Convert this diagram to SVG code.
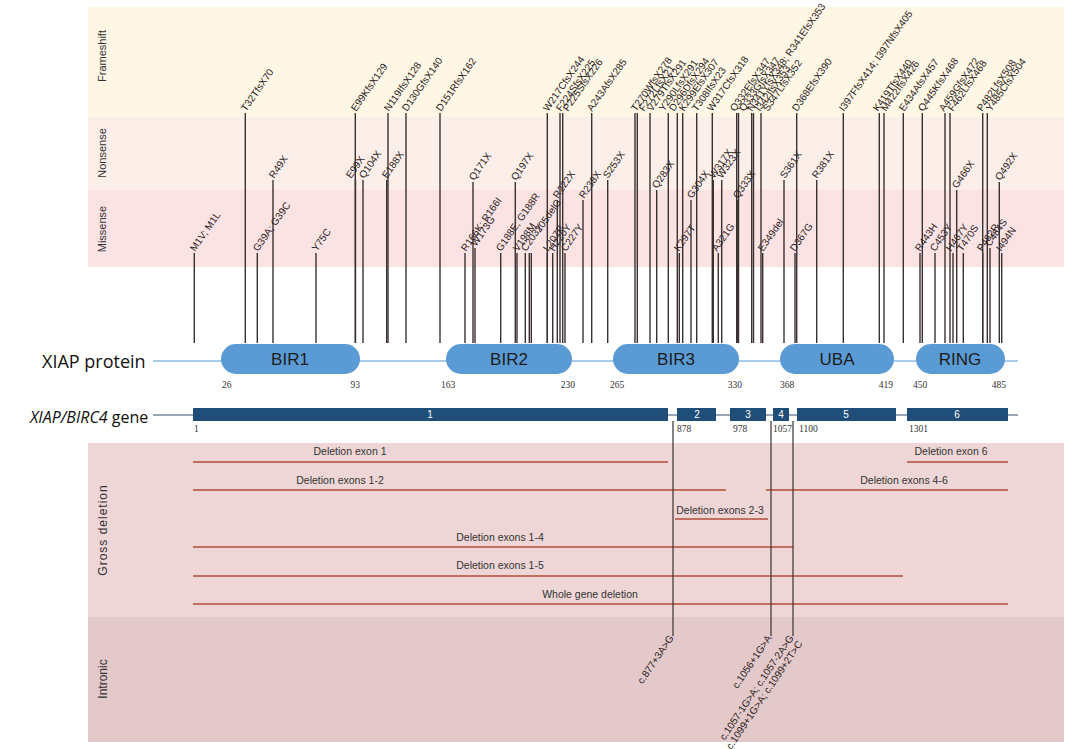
<svg xmlns="http://www.w3.org/2000/svg" width="1084" height="749" viewBox="0 0 1084 749">
<style>
.band-lbl{font-family:"Liberation Sans Narrow","Liberation Sans",sans-serif;font-size:11px;fill:#333}
.ml line{stroke:#3a3131;stroke-width:1.4}
.ml text{font-family:"Liberation Sans Narrow","Liberation Sans",sans-serif;font-size:10px;fill:#2a2222}
.dom rect{fill:#5b9bd5}
.dom text{font-family:"Liberation Sans",sans-serif;font-size:17px;fill:#1c1c1c;text-anchor:middle}
.num{font-family:"Liberation Serif",serif;font-size:9.5px;fill:#333}
.exon rect{fill:#1f4e79}
.exon text{font-family:"Liberation Sans",sans-serif;font-size:10px;fill:#fff;text-anchor:middle}
.del line{stroke:#c0705e;stroke-width:2}
.del text{font-family:"Liberation Sans Narrow","Liberation Sans",sans-serif;font-size:10.5px;fill:#333;text-anchor:middle}
.intr line{stroke:#3a3131;stroke-width:1.2}
.intr text{font-family:"Liberation Sans Narrow","Liberation Sans",sans-serif;font-size:10px;fill:#2a2222;text-anchor:end}
</style>
<rect width="1084" height="749" fill="#fff"/>
<g id="bands">
<rect x="88" y="7" width="976" height="110" fill="#fef7e5"/>
<rect x="88" y="117" width="976" height="73" fill="#fcefe9"/>
<rect x="88" y="190" width="976" height="77" fill="#fbe3e4"/>
<rect x="88" y="443" width="976" height="174" fill="#efd6d6"/>
<rect x="88" y="617" width="976" height="125" fill="#e3c9c9"/>
<text class="band-lbl" transform="translate(106,56) rotate(-90)" text-anchor="middle">Frameshift</text>
<text class="band-lbl" transform="translate(106,153) rotate(-90)" text-anchor="middle">Nonsense</text>
<text class="band-lbl" transform="translate(106,229) rotate(-90)" text-anchor="middle">Missense</text>
<text class="band-lbl" transform="translate(107,530) rotate(-90)" text-anchor="middle" style="font-size:12px;letter-spacing:1px">Gross deletion</text>
<text class="band-lbl" transform="translate(107,679) rotate(-90)" text-anchor="middle" style="font-size:12px">Intronic</text>
</g>
<g id="frameshift" class="ml">
<line x1="245.3" y1="113" x2="245.3" y2="343"/><text transform="translate(246,112) rotate(-55)">T32TfsX70</text>
<line x1="355.3" y1="113" x2="355.3" y2="343"/><text transform="translate(356,112) rotate(-55)">E99KfsX129</text>
<line x1="388" y1="113" x2="388" y2="343"/><text transform="translate(389,112) rotate(-55)">N119IfsX128</text>
<line x1="406" y1="113" x2="406" y2="343"/><text transform="translate(407,112) rotate(-55)">D130GfsX140</text>
<line x1="440" y1="113" x2="440" y2="343"/><text transform="translate(441,112) rotate(-55)">D151RfsX162</text>
<line x1="547.3" y1="113" x2="547.3" y2="343"/><text transform="translate(548,112) rotate(-55)">W217CfsX244</text>
<line x1="560" y1="113" x2="560" y2="343"/><text transform="translate(561,112) rotate(-55)">F224SfsX225</text>
<line x1="562.7" y1="113" x2="562.7" y2="343"/><text transform="translate(568,112) rotate(-55)">P225SfsX226</text>
<line x1="591.7" y1="113" x2="591.7" y2="343"/><text transform="translate(592,112) rotate(-55)">A243AfsX285</text>
<line x1="635" y1="113" x2="635" y2="343"/><text transform="translate(636,112) rotate(-55)">T270WfsX278</text>
<line x1="637.3" y1="113" x2="637.3" y2="343"/><text transform="translate(644,112) rotate(-55)">F272LfsX21</text>
<line x1="650" y1="113" x2="650" y2="343"/><text transform="translate(652,112) rotate(-55)">V279TfsX291</text>
<line x1="668.3" y1="113" x2="668.3" y2="343"/><text transform="translate(664,112) rotate(-55)">Y290LfsX291</text>
<line x1="677.3" y1="113" x2="677.3" y2="343"/><text transform="translate(674,112) rotate(-55)">D296DfsX294</text>
<line x1="682.7" y1="113" x2="682.7" y2="343"/><text transform="translate(684,112) rotate(-55)">K299EfsX307</text>
<line x1="696.7" y1="113" x2="696.7" y2="343"/><text transform="translate(697,112) rotate(-55)">T308IfsX23</text>
<line x1="712.3" y1="113" x2="712.3" y2="343"/><text transform="translate(712,112) rotate(-55)">W317CfsX318</text>
<line x1="736.7" y1="113" x2="736.7" y2="343"/><text transform="translate(735,112) rotate(-55)">Q332EfsX347</text>
<line x1="738.5" y1="113" x2="738.5" y2="343"/><text transform="translate(744,112) rotate(-55)">Q333GfsX347</text>
<line x1="751.7" y1="113" x2="751.7" y2="343"/><text transform="translate(752,112) rotate(-55)">N341YfsX348; R341EfsX353</text>
<line x1="753.5" y1="113" x2="753.5" y2="343"/><text transform="translate(760,112) rotate(-55)">I342IfsX353</text>
<line x1="761" y1="113" x2="761" y2="343"/><text transform="translate(768,112) rotate(-55)">S347LfsX352</text>
<line x1="796.7" y1="113" x2="796.7" y2="343"/><text transform="translate(797,112) rotate(-55)">D368EfsX390</text>
<line x1="843.3" y1="113" x2="843.3" y2="343"/><text transform="translate(844,112) rotate(-55)">I397FfsX414; I397NfsX405</text>
<line x1="879.3" y1="113" x2="879.3" y2="343"/><text transform="translate(878,112) rotate(-55)">K419TfsX440</text>
<line x1="884" y1="113" x2="884" y2="343"/><text transform="translate(886,112) rotate(-55)">M422IfsX426</text>
<line x1="903.3" y1="113" x2="903.3" y2="343"/><text transform="translate(904,112) rotate(-55)">E434AfsX457</text>
<line x1="922.3" y1="113" x2="922.3" y2="343"/><text transform="translate(923,112) rotate(-55)">Q445KfsX468</text>
<line x1="945" y1="113" x2="945" y2="343"/><text transform="translate(944,112) rotate(-55)">A459GfsX472</text>
<line x1="950" y1="113" x2="950" y2="343"/><text transform="translate(953,112) rotate(-55)">F462LfsX468</text>
<line x1="982.7" y1="113" x2="982.7" y2="343"/><text transform="translate(982,112) rotate(-55)">P482LfsX508</text>
<line x1="987.3" y1="113" x2="987.3" y2="343"/><text transform="translate(991,112) rotate(-55)">Y485CfsX504</text>
</g>
<g id="nonsense" class="ml">
<line x1="273" y1="180" x2="273" y2="343"/><text transform="translate(274,179) rotate(-55)">R49X</text>
<line x1="355.5" y1="180" x2="355.5" y2="343"/><text transform="translate(351,179) rotate(-55)">E99X</text>
<line x1="363" y1="180" x2="363" y2="343"/><text transform="translate(364,179) rotate(-55)">Q104X</text>
<line x1="386.7" y1="180" x2="386.7" y2="343"/><text transform="translate(387,179) rotate(-55)">E188X</text>
<line x1="473" y1="182" x2="473" y2="343"/><text transform="translate(474,181) rotate(-55)">Q171X</text>
<line x1="515.3" y1="182" x2="515.3" y2="343"/><text transform="translate(516,181) rotate(-55)">Q197X</text>
<line x1="557.3" y1="200" x2="557.3" y2="343"/><text transform="translate(558,199) rotate(-55)">R222X</text>
<line x1="583" y1="200" x2="583" y2="343"/><text transform="translate(584,199) rotate(-55)">R238X</text>
<line x1="607.7" y1="180" x2="607.7" y2="343"/><text transform="translate(608,179) rotate(-55)">S253X</text>
<line x1="656.7" y1="190" x2="656.7" y2="343"/><text transform="translate(657,189) rotate(-55)">Q283X</text>
<line x1="691" y1="200" x2="691" y2="343"/><text transform="translate(692,199) rotate(-55)">G304X</text>
<line x1="713.3" y1="180" x2="713.3" y2="343"/><text transform="translate(714,179) rotate(-55)">W317X</text>
<line x1="721.7" y1="180" x2="721.7" y2="343"/><text transform="translate(722,179) rotate(-55)">W323X</text>
<line x1="737.7" y1="200" x2="737.7" y2="343"/><text transform="translate(738,199) rotate(-55)">Q333X</text>
<line x1="784" y1="180" x2="784" y2="343"/><text transform="translate(785,179) rotate(-55)">S361X</text>
<line x1="816.7" y1="180" x2="816.7" y2="343"/><text transform="translate(817,179) rotate(-55)">R381X</text>
<line x1="956.7" y1="190" x2="956.7" y2="343"/><text transform="translate(957,189) rotate(-55)">G466X</text>
<line x1="999.3" y1="182" x2="999.3" y2="343"/><text transform="translate(1000,181) rotate(-55)">Q492X</text>
</g>
<g id="missense" class="ml">
<line x1="194.3" y1="253" x2="194.3" y2="343"/><text transform="translate(195,252) rotate(-55)">M1V; M1L</text>
<line x1="257.3" y1="253" x2="257.3" y2="343"/><text transform="translate(258,252) rotate(-55)">G39A; G39C</text>
<line x1="316" y1="253" x2="316" y2="343"/><text transform="translate(317,252) rotate(-55)">Y75C</text>
<line x1="465" y1="253" x2="465" y2="343"/><text transform="translate(466,252) rotate(-55)">R166K; R166I</text>
<line x1="475" y1="248" x2="475" y2="343"/><text transform="translate(476,247) rotate(-55)">W173G</text>
<line x1="500.7" y1="253" x2="500.7" y2="343"/><text transform="translate(501,252) rotate(-55)">G188E; G188R</text>
<line x1="517" y1="253" x2="517" y2="343"/><text transform="translate(518,252) rotate(-55)">V198M</text>
<line x1="525.3" y1="253" x2="525.3" y2="343"/><text transform="translate(526,252) rotate(-55)">C203Y</text>
<line x1="529.3" y1="253" x2="529.3" y2="343"/>
<line x1="531.3" y1="253" x2="531.3" y2="343"/><text transform="translate(540,233) rotate(-55)">205delG</text>
<line x1="547.3" y1="253" x2="547.3" y2="343"/><text transform="translate(548,252) rotate(-55)">L207P</text>
<line x1="552.7" y1="253" x2="552.7" y2="343"/><text transform="translate(554,252) rotate(-55)">H220Y</text>
<line x1="565" y1="253" x2="565" y2="343"/><text transform="translate(566,252) rotate(-55)">C227Y</text>
<line x1="679.3" y1="253" x2="679.3" y2="343"/><text transform="translate(679,252) rotate(-55)">K297T</text>
<line x1="718.3" y1="253" x2="718.3" y2="343"/><text transform="translate(717,252) rotate(-55)">A321G</text>
<line x1="762.7" y1="253" x2="762.7" y2="343"/><text transform="translate(763,252) rotate(-55)">E349del</text>
<line x1="795" y1="253" x2="795" y2="343"/><text transform="translate(795,252) rotate(-55)">D367G</text>
<line x1="920" y1="253" x2="920" y2="343"/><text transform="translate(920,252) rotate(-55)">R443H</text>
<line x1="935" y1="253" x2="935" y2="343"/><text transform="translate(935,252) rotate(-55)">C453Y</text>
<line x1="953" y1="253" x2="953" y2="343"/><text transform="translate(951,252) rotate(-55)">H467Y</text>
<line x1="963.3" y1="253" x2="963.3" y2="343"/><text transform="translate(962,252) rotate(-55)">T470S</text>
<line x1="982.7" y1="253" x2="982.7" y2="343"/><text transform="translate(982,252) rotate(-55)">P482R</text>
<line x1="990" y1="248" x2="990" y2="343"/><text transform="translate(990,247) rotate(-55)">C484S</text>
<line x1="1001.7" y1="253" x2="1001.7" y2="343"/><text transform="translate(1001,252) rotate(-55)">I494N</text>
</g>
<g id="protein">
<text x="42" y="368" style="font-family:'Open Sans','Liberation Sans',sans-serif;font-size:18px;fill:#111">XIAP protein</text>
<line x1="153" y1="361" x2="1018" y2="361" stroke="#8dbde0" stroke-width="1.5"/>
<g class="dom">
<rect x="221" y="344" width="139" height="30" rx="15"/><text x="290" y="365">BIR1</text>
<rect x="446" y="344" width="126" height="30" rx="15"/><text x="509" y="365">BIR2</text>
<rect x="613" y="344" width="126" height="30" rx="15"/><text x="676" y="365">BIR3</text>
<rect x="780" y="344" width="114" height="30" rx="15"/><text x="837" y="365">UBA</text>
<rect x="916" y="344" width="89" height="30" rx="15"/><text x="960" y="365">RING</text>
</g>
<text class="num" x="222" y="388">26</text>
<text class="num" x="360" y="388" text-anchor="end">93</text>
<text class="num" x="441" y="388">163</text>
<text class="num" x="575" y="388" text-anchor="end">230</text>
<text class="num" x="610" y="388">265</text>
<text class="num" x="742" y="388" text-anchor="end">330</text>
<text class="num" x="780" y="388">368</text>
<text class="num" x="893" y="388" text-anchor="end">419</text>
<text class="num" x="913" y="388">450</text>
<text class="num" x="1006" y="388" text-anchor="end">485</text>
</g>
<g id="gene">
<text x="30" y="423" style="font-family:'Open Sans','Liberation Sans',sans-serif;font-size:16px;fill:#111"><tspan font-style="italic">XIAP/BIRC4</tspan> gene</text>
<line x1="153" y1="415" x2="1018" y2="415" stroke="#2f4e6e" stroke-width="1"/>
<g class="exon">
<rect x="193" y="408" width="475" height="13"/><text x="430" y="418">1</text>
<rect x="677" y="408" width="39" height="13"/><text x="697" y="418">2</text>
<rect x="730" y="408" width="36" height="13"/><text x="748" y="418">3</text>
<rect x="773" y="408" width="16" height="13"/><text x="781" y="418">4</text>
<rect x="797" y="408" width="99" height="13"/><text x="846" y="418">5</text>
<rect x="907" y="408" width="101" height="13"/><text x="957" y="418">6</text>
</g>
<text class="num" x="194" y="432">1</text>
<text class="num" x="677" y="432">878</text>
<text class="num" x="733" y="432">978</text>
<text class="num" x="773" y="432">1057</text>
<text class="num" x="799" y="432">1100</text>
<text class="num" x="909" y="432">1301</text>
</g>
<g id="deletions" class="del">
<line x1="193" y1="462" x2="668" y2="462"/><text x="350" y="455">Deletion exon 1</text>
<line x1="907" y1="462" x2="1008" y2="462"/><text x="951" y="455">Deletion exon 6</text>
<line x1="193" y1="490" x2="726" y2="490"/><text x="340" y="484">Deletion exons 1-2</text>
<line x1="766" y1="490" x2="1008" y2="490"/><text x="904" y="484">Deletion exons 4-6</text>
<line x1="675" y1="519" x2="768" y2="519"/><text x="720" y="514">Deletion exons 2-3</text>
<line x1="193" y1="547" x2="793" y2="547"/><text x="500" y="541">Deletion exons 1-4</text>
<line x1="193" y1="576" x2="903" y2="576"/><text x="500" y="569">Deletion exons 1-5</text>
<line x1="193" y1="604" x2="1008" y2="604"/><text x="590" y="598">Whole gene deletion</text>
</g>
<g id="intronic" class="intr">
<line x1="673" y1="421" x2="673" y2="636"/><text transform="translate(674,638) rotate(-56)">c.877+3A&gt;G</text>
<line x1="771" y1="421" x2="771" y2="636"/><text transform="translate(772,638) rotate(-56)">c.1056+1G&gt;A</text>
<line x1="793" y1="421" x2="793" y2="636"/><text transform="translate(794,638) rotate(-56)">c.1057-1G&gt;A; c.1057-2A&gt;G<tspan x="0" dy="10.5">c.1099+1G&gt;A; c.1099+2T&gt;C</tspan></text>
</g>
</svg>
